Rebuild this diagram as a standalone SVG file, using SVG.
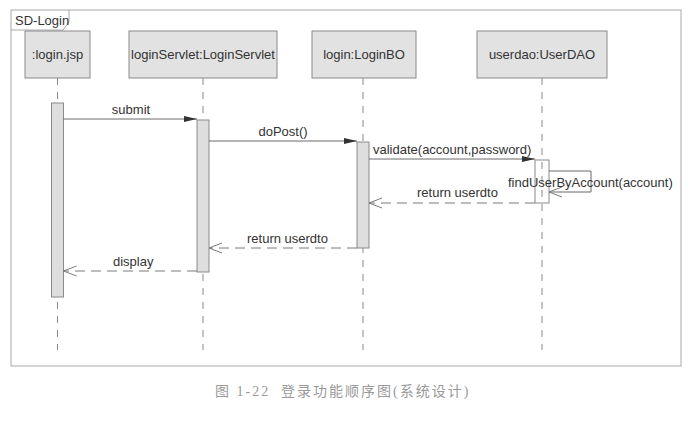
<svg xmlns="http://www.w3.org/2000/svg" width="696" height="425" viewBox="0 0 696 425">
  <style>
    .bg { fill: #ffffff; }
    .frame { fill: none; stroke: #a8a8a8; stroke-width: 1; }
    .head { fill: #e2e2e2; stroke: #8a8a8a; stroke-width: 1; }
    .act { fill: #dedede; stroke: #8a8a8a; stroke-width: 1; }
    .act2 { fill: none; stroke: #8a8a8a; stroke-width: 1; }
    .life { fill: none; stroke: #8a8a8a; stroke-width: 1; stroke-dasharray: 7 7; }
    .msg { fill: none; stroke: #6a6a6a; stroke-width: 1; }
    .ret { fill: none; stroke: #7a7a7a; stroke-width: 1; stroke-dasharray: 10 6; }
    .t { font-family: "Liberation Sans", Arial, sans-serif; font-size: 13px; fill: #333333; }
    .tc { text-anchor: middle; }
    .cap { font-family: "Liberation Serif", "Noto Sans CJK SC", serif; font-size: 14px; fill: #999999; letter-spacing: 2px; }
  </style>
  <defs>
    <marker id="filled" markerUnits="userSpaceOnUse" markerWidth="14" markerHeight="10" refX="13" refY="5" orient="auto">
      <path d="M0,2 L13,5 L0,8 Z" fill="#333333"/>
    </marker>
    <marker id="open" markerUnits="userSpaceOnUse" markerWidth="14" markerHeight="12" refX="13" refY="6" orient="auto">
      <path d="M0,1 L13,6 L0,11" fill="none" stroke="#7a7a7a" stroke-width="1"/>
    </marker>
  </defs>
  <rect class="bg" x="0" y="0" width="696" height="425"/>

  <g id="frame">
    <rect class="frame" x="11" y="10" width="670" height="356"/>
    <path class="frame" d="M11,30 L63,30 L69,22 L69,10"/>
    <text class="t" x="15" y="25">SD-Login</text>
  </g>

  <g id="login_jsp">
    <rect class="head" x="25" y="31" width="65" height="47"/>
    <text class="t tc" x="57.5" y="59">:login.jsp</text>
    <line class="life" x1="57.5" y1="78" x2="57.5" y2="350"/>
    <rect class="act" x="51.5" y="103" width="12" height="194"/>
  </g>

  <g id="loginServlet">
    <rect class="head" x="129" y="31" width="148" height="47"/>
    <text class="t tc" x="203" y="59">loginServlet:LoginServlet</text>
    <line class="life" x1="203" y1="78" x2="203" y2="350"/>
    <rect class="act" x="197" y="120" width="12" height="152"/>
  </g>

  <g id="loginBO">
    <rect class="head" x="312" y="31" width="104" height="47"/>
    <text class="t tc" x="364" y="59">login:LoginBO</text>
    <line class="life" x1="363" y1="78" x2="363" y2="350"/>
    <rect class="act" x="357" y="142" width="12" height="106"/>
  </g>

  <g id="userdao">
    <rect class="head" x="477" y="31" width="130" height="47"/>
    <text class="t tc" x="542" y="59">userdao:UserDAO</text>
    <line class="life" x1="542" y1="78" x2="542" y2="350"/>
    <rect class="act2" x="535" y="160" width="14" height="43"/>
  </g>

  <g id="connectors">
    <line class="msg" x1="63.5" y1="119" x2="197" y2="119" marker-end="url(#filled)"/>
    <text class="t tc" x="131" y="114">submit</text>

    <line class="msg" x1="209" y1="141" x2="357" y2="141" marker-end="url(#filled)"/>
    <text class="t tc" x="283" y="136">doPost()</text>

    <line class="msg" x1="369" y1="159" x2="535" y2="159" marker-end="url(#filled)"/>
    <text class="t" x="373" y="154">validate(account,password)</text>

    <path class="msg" d="M549,171 L591,171 L591,192 L549,192" marker-end="url(#open)"/>
    <text class="t" x="508" y="187">findUserByAccount(account)</text>

    <line class="ret" x1="535" y1="203" x2="369" y2="203" marker-end="url(#open)"/>
    <text class="t" x="417" y="197">return userdto</text>

    <line class="ret" x1="357" y1="248" x2="209" y2="248" marker-end="url(#open)"/>
    <text class="t" x="247" y="243">return userdto</text>

    <line class="ret" x1="197" y1="271" x2="63.5" y2="271" marker-end="url(#open)"/>
    <text class="t" x="113" y="266">display</text>
  </g>

  <text class="cap" x="215" y="396">图 1-22</text>
  <text class="cap" x="281" y="396">登录功能顺序图(系统设计)</text>
</svg>
